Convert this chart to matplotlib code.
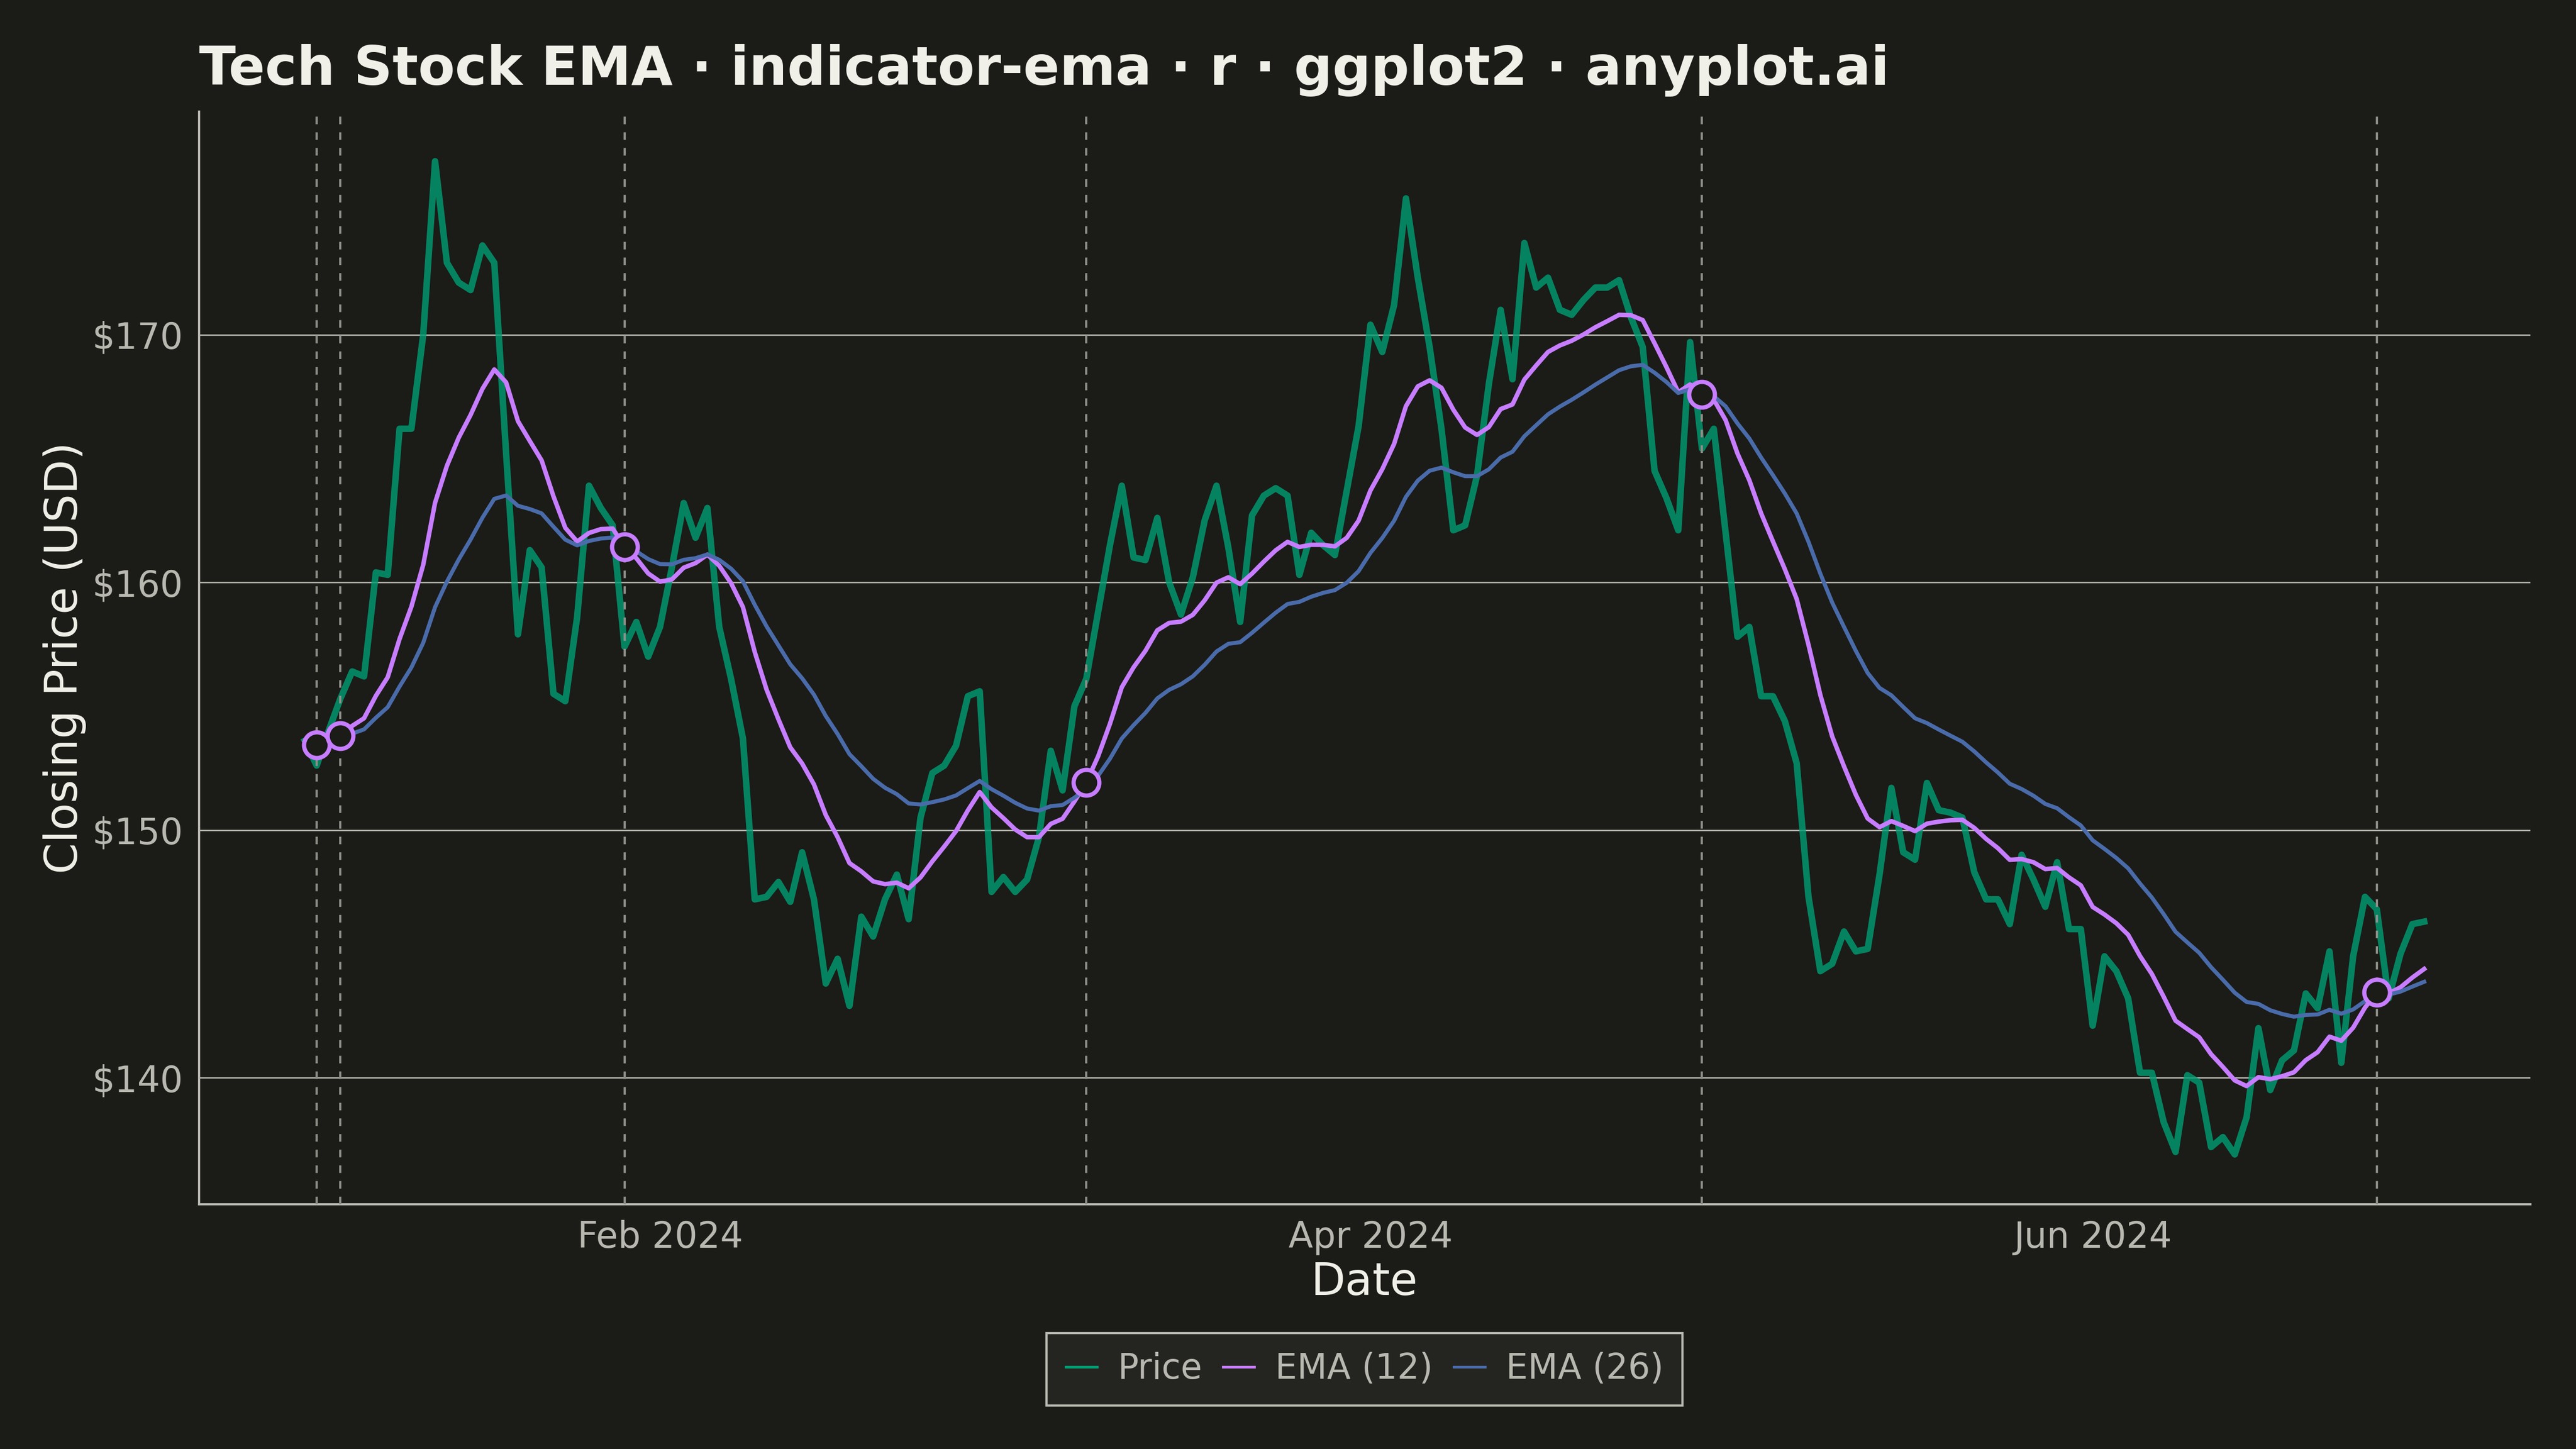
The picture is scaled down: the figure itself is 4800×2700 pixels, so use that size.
import numpy as np
import pandas as pd
import matplotlib
matplotlib.use('Agg')
import matplotlib.pyplot as plt
import matplotlib.dates as mdates
from matplotlib.lines import Line2D

# daily closing prices, 2024-01-02 .. 2024-06-29
dates = pd.date_range('2024-01-02', periods=180, freq='D')
price = [
    153.6, 152.6, 154.0, 155.3, 156.4, 156.2, 160.4, 160.3, 166.2, 166.2,
    170.0, 177.0, 172.9, 172.1, 171.8, 173.6, 172.9, 165.2, 157.9, 161.3,
    160.6, 155.5, 155.2, 158.6, 163.9, 163.0, 162.3, 157.4, 158.4, 157.0,
    158.2, 160.6, 163.2, 161.8, 163.0, 158.2, 156.1, 153.7, 147.2, 147.3,
    147.9, 147.1, 149.1, 147.2, 143.8, 144.8, 142.9, 146.5, 145.7, 147.2,
    148.2, 146.4, 150.5, 152.3, 152.6, 153.4, 155.4, 155.6, 147.5, 148.1,
    147.5, 148.0, 149.7, 153.2, 151.6, 155.0, 156.1, 158.8, 161.5, 163.9,
    161.0, 160.9, 162.6, 160.0, 158.7, 160.2, 162.5, 163.9, 161.4, 158.4,
    162.7, 163.5, 163.8, 163.5, 160.3, 162.0, 161.5, 161.1, 163.7, 166.3,
    170.4, 169.3, 171.2, 175.5, 172.3, 169.5, 166.2, 162.1, 162.3, 164.3,
    168.0, 171.0, 168.2, 173.7, 171.9, 172.3, 171.0, 170.8, 171.4, 171.9,
    171.9, 172.2, 170.7, 169.5, 164.5, 163.4, 162.1, 169.7, 165.4, 166.2,
    162.0, 157.8, 158.2, 155.4, 155.4, 154.4, 152.7, 147.3, 144.3, 144.6,
    145.9, 145.1, 145.2, 148.2, 151.7, 149.1, 148.8, 151.9, 150.8, 150.7,
    150.5, 148.3, 147.2, 147.2, 146.2, 149.0, 148.0, 146.9, 148.7, 146.0,
    146.0, 142.1, 144.9, 144.3, 143.2, 140.2, 140.2, 138.2, 137.0, 140.1,
    139.8, 137.2, 137.6, 136.9, 138.4, 142.0, 139.5, 140.7, 141.1, 143.4,
    142.8, 145.1, 140.6, 144.9, 147.3, 146.8, 143.2, 145.0, 146.2, 146.3,
]

df = pd.DataFrame({'date': dates, 'close': price})
df['ema12'] = df['close'].ewm(span=12, adjust=False).mean()
df['ema26'] = df['close'].ewm(span=26, adjust=False).mean()

# crossover points: sign change of ema12 - ema26
sgn = np.sign(df['ema12'] - df['ema26'])
cross = (sgn != sgn.shift()) & (df.index > 0)
cx = df[cross]

BG = '#1B1B17'
INK = '#F0EFE8'
SOFT = '#B8B8B0'
C_PRICE = '#009E73'
C_E12 = '#C77DFF'
C_E26 = '#4A6BAA'

plt.rcParams['font.family'] = ['DejaVu Sans']

fig = plt.figure(figsize=(16, 9), dpi=300, facecolor=BG)
ax = fig.add_axes([0.0772, 0.169, 0.905, 0.754])
ax.set_facecolor(BG)

ax.plot(df['date'], df['close'], color=C_PRICE, lw=2.9, alpha=0.8, zorder=2,
        solid_joinstyle='round')
ax.plot(df['date'], df['ema12'], color=C_E12, lw=2.0, zorder=3)
ax.plot(df['date'], df['ema26'], color=C_E26, lw=1.8, zorder=3)

for d in cx['date']:
    ax.axvline(d, color='#8E8E88', lw=1.0, ls=(0, (3.4, 3.6)), zorder=4)
ax.plot(cx['date'], cx['ema12'], 'o', ms=11.5, mfc=BG, mec=C_E12, mew=1.9,
        zorder=5)

ax.margins(x=0.05, y=0.05)
ax.yaxis.grid(True, color='#BDBDB5', lw=0.6)
ax.xaxis.grid(False)
ax.set_axisbelow(True)

for s in ['top', 'right']:
    ax.spines[s].set_visible(False)
for s in ['left', 'bottom']:
    ax.spines[s].set_color(SOFT)
    ax.spines[s].set_linewidth(1.0)

ax.set_yticks([140, 150, 160, 170])
ax.yaxis.set_major_formatter(plt.FuncFormatter(lambda v, p: '$%d' % v))
ax.xaxis.set_major_locator(mdates.MonthLocator(bymonth=[2, 4, 6]))
ax.xaxis.set_major_formatter(mdates.DateFormatter('%b %Y'))
ax.tick_params(axis='both', length=0, labelsize=16, labelcolor=SOFT, pad=7)

ax.set_xlabel('Date', fontsize=20, color=INK, labelpad=2.5)
ax.set_ylabel('Closing Price (USD)', fontsize=20, color=INK, labelpad=2.5)
ax.set_title('Tech Stock EMA · indicator-ema · r · ggplot2 · anyplot.ai',
             loc='left', fontsize=24, fontweight='bold', color=INK, pad=12)

handles = [Line2D([], [], color=C_PRICE, lw=1.2),
           Line2D([], [], color=C_E12, lw=1.2),
           Line2D([], [], color=C_E26, lw=1.2)]
leg = fig.legend(handles, ['Price', 'EMA (12)', 'EMA (26)'], loc='center',
                 bbox_to_anchor=(0.0772 + 0.905 / 2, 0.055), ncol=3,
                 fontsize=15.5, frameon=True, fancybox=False,
                 handlelength=0.9, handletextpad=0.6, columnspacing=0.6,
                 borderpad=0.55)
leg.get_frame().set_facecolor('#242421')
leg.get_frame().set_edgecolor(SOFT)
leg.get_frame().set_linewidth(1.0)
leg.get_frame().set_alpha(1)
for t in leg.get_texts():
    t.set_color(SOFT)

fig.savefig('out.png', dpi=300, facecolor=BG)
